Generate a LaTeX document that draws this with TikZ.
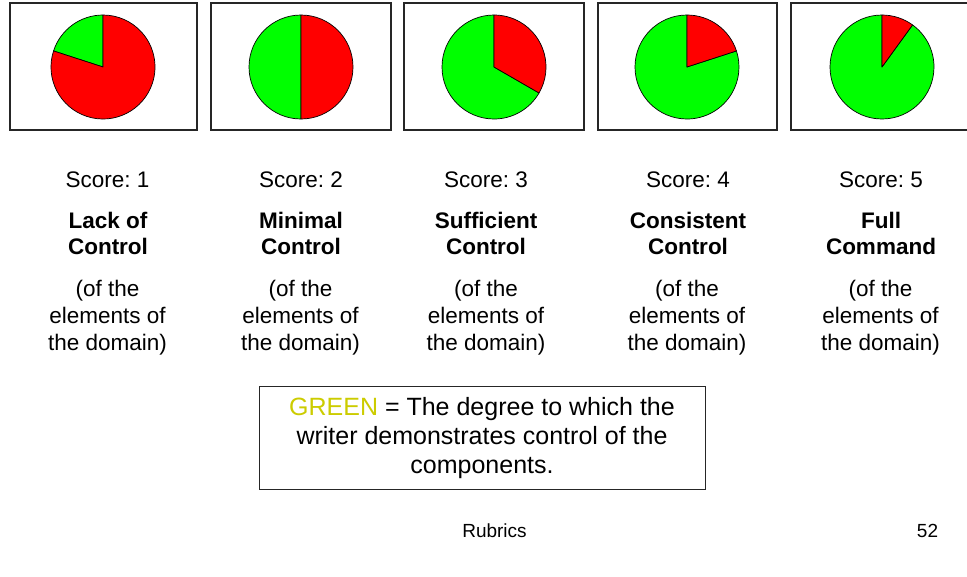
\documentclass[tikz,border=0pt]{standalone}
\usepackage{fontspec}
\setmainfont{Liberation Sans}
\frenchspacing
\definecolor{pgreen}{RGB}{0,255,0}
\definecolor{pred}{RGB}{255,0,0}
\definecolor{gtext}{RGB}{204,204,0}
\begin{document}
\begin{tikzpicture}[x=1pt,y=1pt]

\tikzset{frame/.style={draw=black!85,line width=1.1pt,fill=white,inner sep=0pt,minimum height=127pt},}
\tikzset{slice/.style={draw=black,line width=0.7pt,line join=round},}
\tikzset{score/.style={inner sep=0pt,align=center,font=\fontsize{22.5}{27}\selectfont},}
\tikzset{title/.style={inner sep=0pt,align=center,font=\fontsize{22.5}{26}\selectfont\bfseries},}
\tikzset{note/.style={draw=black!85,line width=0.8pt,inner sep=0pt,minimum width=446pt,minimum height=103pt,align=center,font=\fontsize{25}{29}\selectfont},}
\tikzset{foot/.style={inner sep=0pt,font=\fontsize{19}{22}\selectfont},}

\useasboundingbox[fill=white] (0,0) rectangle (967,-576);

	\draw
		(103.5,-66.5) node[frame,minimum width=187pt] (b1) {}
		(301,-66.5) node[frame,minimum width=180pt] (b2) {}
		(494,-66.5) node[frame,minimum width=180pt] (b3) {}
		(687.5,-66.5) node[frame,minimum width=179pt] (b4) {}
		(881,-66.5) node[frame,minimum width=180pt] (b5) {}
;

\coordinate (p1) at (103,-67);
\coordinate (p2) at (301,-67);
\coordinate (p3) at (494,-67);
\coordinate (p4) at (687,-67);
\coordinate (p5) at (882,-67);

% score 1
\filldraw[slice,fill=pgreen](p1) -- ++(90:52) arc[start angle=90,end angle=162,radius=52] -- cycle;
\filldraw[slice,fill=pred](p1) -- ++(162:52) arc[start angle=162,end angle=450,radius=52] -- cycle;
% score 2
\filldraw[slice,fill=pgreen](p2) -- ++(90:52) arc[start angle=90,end angle=270,radius=52] -- cycle;
\filldraw[slice,fill=pred](p2) -- ++(270:52) arc[start angle=270,end angle=450,radius=52] -- cycle;
% score 3
\filldraw[slice,fill=pgreen](p3) -- ++(90:52) arc[start angle=90,end angle=330,radius=52] -- cycle;
\filldraw[slice,fill=pred](p3) -- ++(330:52) arc[start angle=330,end angle=450,radius=52] -- cycle;
% score 4
\filldraw[slice,fill=pgreen](p4) -- ++(90:52) arc[start angle=90,end angle=378,radius=52] -- cycle;
\filldraw[slice,fill=pred](p4) -- ++(18:52) arc[start angle=18,end angle=90,radius=52] -- cycle;
% score 5
\filldraw[slice,fill=pgreen](p5) -- ++(90:52) arc[start angle=90,end angle=414,radius=52] -- cycle;
\filldraw[slice,fill=pred](p5) -- ++(54:52) arc[start angle=54,end angle=90,radius=52] -- cycle;

	\draw
		(107.5,-180) node[score] (s1) {Score: 1}
		(301,-180) node[score] (s2) {Score: 2}
		(486,-180) node[score] (s3) {Score: 3}
		(688,-180) node[score] (s4) {Score: 4}
		(881,-180) node[score] (s5) {Score: 5}

		(108,-233) node[title] (t1) {Lack of\\Control}
		(301,-233) node[title] (t2) {Minimal\\Control}
		(486,-233) node[title] (t3) {Sufficient\\Control}
		(688,-233) node[title] (t4) {Consistent\\Control}
		(881,-233) node[title] (t5) {Full\\Command}

		(107.5,-317.5) node[score] (d1) {(of the\\elements of\\the domain)}
		(300.5,-317.5) node[score] (d2) {(of the\\elements of\\the domain)}
		(486,-317.5) node[score] (d3) {(of the\\elements of\\the domain)}
		(687,-317.5) node[score] (d4) {(of the\\elements of\\the domain)}
		(880.5,-317.5) node[score] (d5) {(of the\\elements of\\the domain)}
;

\node[note] (key) at (482,-438) {\textcolor{gtext}{GREEN} = The degree to which the\\writer demonstrates control of the\\components.};

\node[foot] (ft) at (494.5,-531) {Rubrics};
\node[foot] (pg) at (927.5,-531) {52};

\end{tikzpicture}
\end{document}
